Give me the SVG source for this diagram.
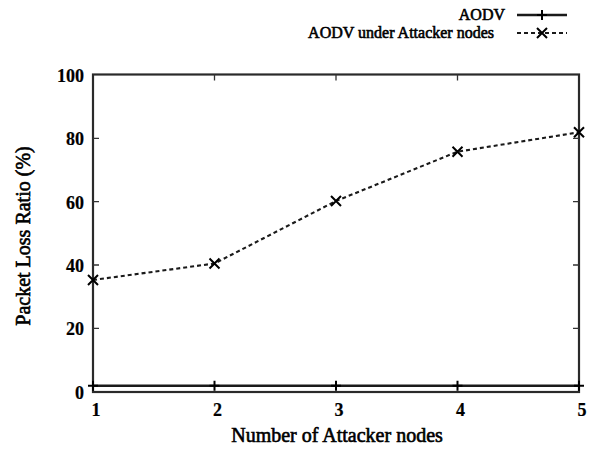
<svg xmlns="http://www.w3.org/2000/svg" width="603" height="450" viewBox="0 0 603 450">
<style>
.t{font-family:"Liberation Serif","Times New Roman",serif;fill:#000;stroke:#000;stroke-width:0.6}
.tick{font-size:18px;font-weight:bold;stroke-width:0.2}
.ax{stroke:#2a2a2a;stroke-width:2.2;fill:none}
.tk{stroke:#333;stroke-width:1.3}
.solid{stroke:#1a1a1a;stroke-width:2.4;fill:none}
.dash{stroke:#1a1a1a;stroke-width:2.1;fill:none;stroke-dasharray:4 3}
.mk{stroke:#000;stroke-width:2;fill:none}
</style>
<defs>
<path id="plus" d="M-5,0H5M0,-5V5"/>
<path id="cross" d="M-5,-5L5,5M-5,5L5,-5"/>
</defs>
<rect width="603" height="450" fill="#fff"/>
<g id="frame">
<rect class="ax" x="93" y="74.5" width="486" height="317.5"/>
<g class="tk">
<path d="M93,138.3h6M93,201.7h6M93,265h6M93,328.3h6M579,138.3h-6M579,201.7h-6M579,265h-6M579,328.3h-6"/>
<path d="M214.5,74.5v6M336,74.5v6M457.5,74.5v6"/>
</g>
</g>
<g id="y-ticks" class="t tick" text-anchor="end">
<text x="84" y="82">100</text>
<text x="84" y="145">80</text>
<text x="84" y="208.5">60</text>
<text x="84" y="272">40</text>
<text x="84" y="335">20</text>
<text x="84" y="399">0</text>
</g>
<g id="x-ticks" class="t tick" text-anchor="middle">
<text x="96" y="416">1</text>
<text x="217.5" y="416">2</text>
<text x="339" y="416">3</text>
<text x="460.5" y="416">4</text>
<text x="582" y="416">5</text>
</g>
<g id="axis-labels" class="t" font-size="20px" text-anchor="middle">
<text x="337" y="442">Number of Attacker nodes</text>
<text transform="translate(30,236) rotate(-90)">Packet Loss Ratio (%)</text>
</g>
<g id="series-aodv">
<path class="solid" d="M93,385.7H579"/>
<g class="mk">
<use href="#plus" x="93" y="385.7"/>
<use href="#plus" x="214.5" y="385.7"/>
<use href="#plus" x="336" y="385.7"/>
<use href="#plus" x="457.5" y="385.7"/>
<use href="#plus" x="579" y="385.7"/>
</g>
</g>
<g id="series-attack">
<path class="dash" d="M93,280L214.5,263.5L336,201L457.5,151.7L579,132.3"/>
<g class="mk">
<use href="#cross" x="93" y="280"/>
<use href="#cross" x="214.5" y="263.5"/>
<use href="#cross" x="336" y="201"/>
<use href="#cross" x="457.5" y="151.7"/>
<use href="#cross" x="579" y="132.3"/>
</g>
</g>
<g id="legend">
<g class="t" font-size="16px" text-anchor="end">
<text x="505" y="20">AODV</text>
<text x="494" y="38">AODV under Attacker nodes</text>
</g>
<path class="solid" d="M517,15H567"/>
<use class="mk" href="#plus" x="542" y="15"/>
<path class="dash" d="M517,33H567"/>
<use class="mk" href="#cross" x="542" y="33"/>
</g>
</svg>
